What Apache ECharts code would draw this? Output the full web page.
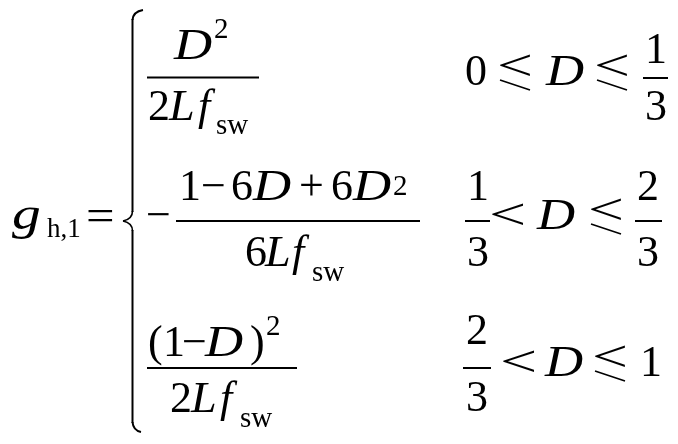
<!DOCTYPE html>
<html>
<head>
<meta charset="utf-8">
<script src="https://cdn.jsdelivr.net/npm/echarts@6/dist/echarts.min.js"></script>
<style>
html,body{margin:0;padding:0;background:#fff;}
#main{width:678px;height:444px;}
</style>
</head>
<body>
<div id="main"></div>
<script>
// ---- formula content (text tokens) ----
const lhsSymbol = 'g';
const lhsSubscript = 'h,1';
const relation = '=';
const row1Numerator = ['D', '2'];
const row1Denominator = ['2', 'L', 'f', 'sw'];
const row1Condition = ['0', '⩽', 'D', '⩽', '1', '3'];
const row2Sign = '−';
const row2Numerator = ['1', '−', '6', 'D', '+', '6', 'D', '2'];
const row2Denominator = ['6', 'L', 'f', 'sw'];
const row2Condition = ['1', '3', '<', 'D', '⩽', '2', '3'];
const row3Numerator = ['(', '1', '−', 'D', ')', '2'];
const row3Denominator = ['2', 'L', 'f', 'sw'];
const row3Condition = ['2', '3', '<', 'D', '⩽', '1'];

const FAM = "'Liberation Serif','Times New Roman','DejaVu Serif',serif";
const MAIN = 44, SMALL = 29;
// horizontal stretch per glyph, to match the wider reference glyph shapes
const STRETCH = { 'D': 1.2, 'g': 1.25, '<': 1.5, '=': 1.15, 'L': 1.05 };
const els = [];
function italicTok(s) { return /^[A-Za-z]$/.test(s); }
function txt(s, x, base, size, italic, sx) {
  els.push({
    type: 'text', x: x, y: base - size * 0.32, silent: true,
    scaleX: sx || STRETCH[s] || 1,
    style: {
      text: s, font: (italic ? 'italic ' : '') + size + 'px ' + FAM,
      fill: '#000', align: 'left', verticalAlign: 'middle'
    }
  });
}
function seg(x1, y1, x2, y2, w) {
  els.push({ type: 'line', silent: true, shape: { x1: x1, y1: y1, x2: x2, y2: y2 },
    style: { stroke: '#000', lineWidth: w || 2 } });
}
function rule(x1, x2, y) { seg(x1, y, x2, y, 2); }
// slanted less-than-or-equal: a wide "<" with a bar parallel to its lower arm
function leqSlant(x, base) {
  txt('<', x, base - 5, MAIN, false, 1.45);
  seg(x + 3, base - 8, x + 33, base + 2, 1.7);
}
function seq(tokens, xs, bases, sizes) {
  tokens.forEach((t, i) => {
    if (t === '⩽') leqSlant(xs[i], bases[i]);
    else txt(t, xs[i], bases[i], sizes[i], italicTok(t));
  });
}

// ---- left-hand side ----
txt(lhsSymbol, 12, 232, 46, true);
txt(lhsSubscript, 47, 239, 27, false);
txt(relation, 86, 233, MAIN, false);

// ---- brace ----
const bs = { stroke: '#000', lineWidth: 2, fill: 'none' };
const bt = { stroke: '#000', lineWidth: 1.6, fill: 'none' };
els.push({ type: 'bezierCurve', silent: true, shape: { x1: 143, y1: 10, cpx1: 137, cpy1: 11, cpx2: 133, cpy2: 14, x2: 132.5, y2: 20 }, style: bs });
els.push({ type: 'line', silent: true, shape: { x1: 132.5, y1: 19, x2: 132.5, y2: 212 }, style: bs });
els.push({ type: 'bezierCurve', silent: true, shape: { x1: 132.5, y1: 211, cpx1: 132.5, cpy1: 217, cpx2: 128, cpy2: 220, x2: 123, y2: 221 }, style: bt });
els.push({ type: 'bezierCurve', silent: true, shape: { x1: 123, y1: 221, cpx1: 128, cpy1: 222, cpx2: 132.5, cpy2: 225, x2: 132.5, y2: 231 }, style: bt });
els.push({ type: 'line', silent: true, shape: { x1: 132.5, y1: 230, x2: 132.5, y2: 423 }, style: bs });
els.push({ type: 'bezierCurve', silent: true, shape: { x1: 132.5, y1: 422, cpx1: 133, cpy1: 428, cpx2: 136, cpy2: 431, x2: 141, y2: 432 }, style: bs });

// ---- row 1 ----
seq(row1Numerator, [174, 214], [62, 40], [MAIN, SMALL]);
rule(147, 259, 77.5);
seq(row1Denominator, [148, 169, 198, 216], [123, 123, 123, 136], [MAIN, MAIN, MAIN, SMALL]);
seq(row1Condition, [465, 497, 546, 594, 645, 645], [88, 88, 88, 88, 66, 123], [MAIN, MAIN, MAIN, MAIN, MAIN, MAIN]);
rule(643, 668, 78);

// ---- row 2 ----
txt(row2Sign, 146, 232, MAIN, false);
seq(row2Numerator, [179, 201, 231, 253, 299, 331, 353, 393], [203, 203, 203, 203, 203, 203, 203, 197],
  [MAIN, MAIN, MAIN, MAIN, MAIN, MAIN, MAIN, SMALL]);
rule(176, 420, 221);
seq(row2Denominator, [245, 265, 292, 312], [269, 269, 269, 283], [MAIN, MAIN, MAIN, SMALL]);
seq(row2Condition, [467, 467, 489, 537, 588, 637, 637], [203, 269, 232, 232, 232, 203, 269],
  [MAIN, MAIN, MAIN, MAIN, MAIN, MAIN, MAIN]);
rule(465, 490, 221);
rule(635, 662, 221);

// ---- row 3 ----
seq(row3Numerator, [148, 163, 182, 205, 250, 266], [359, 359, 359, 359, 359, 337],
  [MAIN, MAIN, MAIN, MAIN, MAIN, SMALL]);
rule(147, 297, 368);
seq(row3Denominator, [170, 191, 220, 240], [415, 415, 415, 429], [MAIN, MAIN, MAIN, SMALL]);
seq(row3Condition, [466, 466, 500, 545, 592, 640], [347, 414, 379, 379, 379, 379],
  [MAIN, MAIN, MAIN, MAIN, MAIN, MAIN]);
rule(463, 491, 368);

const chart = echarts.init(document.getElementById('main'), null, { renderer: 'canvas' });
chart.setOption({ backgroundColor: '#fff', animation: false, graphic: { elements: els } });
</script>
</body>
</html>
